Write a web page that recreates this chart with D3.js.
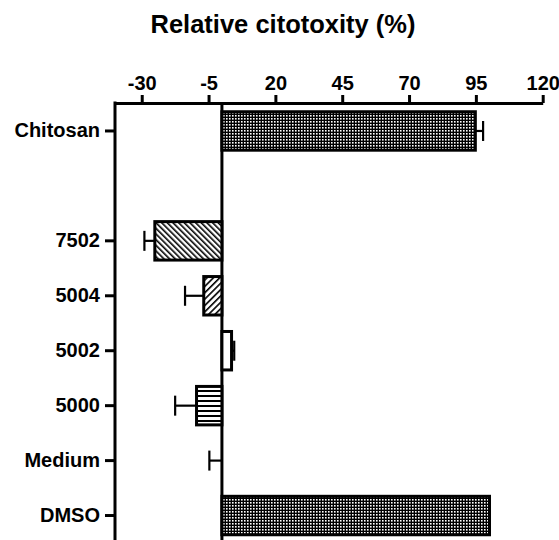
<!DOCTYPE html>
<html>
<head>
<meta charset="utf-8">
<script src="https://cdn.jsdelivr.net/npm/d3@7"></script>
<style>
  html, body { margin: 0; padding: 0; background: #fff; }
  svg { display: block; }
  text { font-family: Arial, "Liberation Sans", Helvetica, sans-serif; font-weight: bold; fill: #000; }
</style>
</head>
<body>
<svg id="chart" width="559" height="540"></svg>
<script>
// ---- data ----
const categories = ["Chitosan", "", "7502", "5004", "5002", "5000", "Medium", "DMSO"];
const values     = [94.8, null, -25.1, -6.8, 3.6, -9.5, 0, 100.1];
const errors     = [2.9, null, 3.9, 7.0, 1.0, 8.0, 4.7, 0];
const fills      = ["checker", null, "diagBack", "diagFwd", "white", "horiz", "white", "checker"];
const xTicks     = [-30, -5, 20, 45, 70, 95, 120];
const title      = "Relative citotoxity (%)";

const svg = d3.select("#chart");
const defs = svg.append("defs");

// patterns
const pChk = defs.append("pattern").attr("id", "checker").attr("patternUnits", "userSpaceOnUse")
  .attr("width", 3).attr("height", 3);
pChk.append("rect").attr("width", 3).attr("height", 3).attr("fill", "#000");
pChk.append("rect").attr("x", 1).attr("y", 1).attr("width", 1.6).attr("height", 1.6).attr("fill", "#fff");

const pDB = defs.append("pattern").attr("id", "diagBack").attr("patternUnits", "userSpaceOnUse")
  .attr("width", 4).attr("height", 4).attr("patternTransform", "rotate(-45)");
pDB.append("rect").attr("width", 4).attr("height", 4).attr("fill", "#fff");
pDB.append("rect").attr("x", 0).attr("width", 1.6).attr("height", 4).attr("fill", "#000");

const pDF = defs.append("pattern").attr("id", "diagFwd").attr("patternUnits", "userSpaceOnUse")
  .attr("width", 4.5).attr("height", 4.5).attr("patternTransform", "rotate(45)");
pDF.append("rect").attr("width", 4.5).attr("height", 4.5).attr("fill", "#fff");
pDF.append("rect").attr("x", 0).attr("width", 1.6).attr("height", 4.5).attr("fill", "#000");

const pH = defs.append("pattern").attr("id", "horiz").attr("patternUnits", "userSpaceOnUse")
  .attr("width", 5).attr("height", 5);
pH.append("rect").attr("width", 5).attr("height", 5).attr("fill", "#fff");
pH.append("rect").attr("y", 0).attr("width", 5).attr("height", 2).attr("fill", "#000");

// scales
const x = d3.scaleLinear().domain([-40, 120]).range([115, 542.7]);
const y = d3.scaleBand().domain(d3.range(categories.length)).range([103.5, 543])
  .paddingInner(0.3).paddingOuter(0.15);

// title
svg.append("text").attr("x", 283).attr("y", 33).attr("text-anchor", "middle")
  .style("font-size", "25.5px").text(title);

// zero line
svg.append("line").attr("x1", x(0)).attr("x2", x(0)).attr("y1", 103).attr("y2", 545)
  .attr("stroke", "#000").attr("stroke-width", 3);

// bars
const idx = d3.range(categories.length).filter(i => values[i] !== null);
svg.append("g").selectAll("rect").data(idx.filter(i => values[i] !== 0)).join("rect")
  .attr("x", i => Math.min(x(0), x(values[i])))
  .attr("width", i => Math.abs(x(values[i]) - x(0)))
  .attr("y", i => y(i))
  .attr("height", y.bandwidth())
  .attr("fill", i => fills[i] === "white" ? "#fff" : `url(#${fills[i]})`)
  .attr("stroke", "#000").attr("stroke-width", 3);

// error bars
const eg = svg.append("g").attr("stroke", "#000").attr("stroke-width", 2.2);
idx.filter(i => errors[i] > 0).forEach(i => {
  const v = values[i];
  const dir = v <= 0 ? -1 : 1;
  const end = v + dir * errors[i];
  const cy = y(i) + y.bandwidth() / 2;
  eg.append("line").attr("x1", x(v)).attr("x2", x(end)).attr("y1", cy).attr("y2", cy);
  eg.append("line").attr("x1", x(end)).attr("x2", x(end)).attr("y1", cy - 10).attr("y2", cy + 10);
});

// top axis
const gx = svg.append("g").attr("transform", "translate(0,103)")
  .call(d3.axisTop(x).tickValues(xTicks).tickFormat(d => String(d)).tickSize(8).tickSizeOuter(0).tickPadding(5));
gx.select(".domain").attr("stroke-width", 3);
gx.selectAll(".tick line").attr("stroke-width", 3);
gx.selectAll(".tick text").style("font-size", "20px").style("font-family", "Arial, 'Liberation Sans', sans-serif").style("font-weight", "bold");

// left axis
const gy = svg.append("g").attr("transform", "translate(115,0)")
  .call(d3.axisLeft(y).tickValues(d3.range(categories.length).filter(i => categories[i] !== ""))
    .tickFormat(i => categories[i]).tickSize(10).tickSizeOuter(0).tickPadding(5));
gy.select(".domain").attr("stroke-width", 3).attr("d", "M0,101.5V545");
gy.selectAll(".tick line").attr("stroke-width", 3);
gy.selectAll(".tick text").style("font-size", "20px").style("font-family", "Arial, 'Liberation Sans', sans-serif").style("font-weight", "bold");
</script>
</body>
</html>
